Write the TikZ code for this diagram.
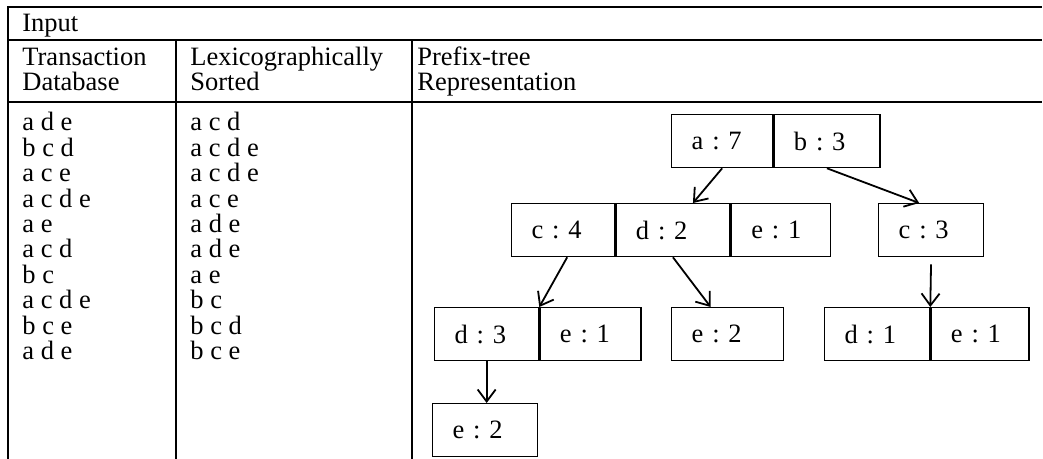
\documentclass[tikz,border=0pt]{standalone}
\usepackage{fontspec}
\setmainfont{Liberation Serif}
\usetikzlibrary{arrows.meta,positioning}

\begin{document}
\frenchspacing
\begin{tikzpicture}[x=0.5pt,y=-0.5pt,
   font=\fontsize{13.25}{12.5}\selectfont,
   rule/.style={line width=0.85pt},
   txt/.style={anchor=base west, inner sep=0pt},
   cell/.style={draw, line width=0.65pt, minimum height=26.5pt, inner xsep=10pt,
      inner ysep=0pt, text width=#1, align=left, anchor=north west},
   link/.style={line width=0.9pt, -{Straight Barb[length=6pt,width=9pt]}}]
\useasboundingbox (0,0) rectangle (1043,459);
% table rules (open at the bottom and on the right)
\draw[rule] (8,459) -- (8,7) -- (1042,7);
\draw[rule] (8,40) -- (1042,40);
\draw[rule] (8,102) -- (1042,102);
\draw[rule] (176,40) -- (176,459);
\draw[rule] (412,40) -- (412,459);
% head of the table
\node[txt] (input) at (22,32) {Input};
\foreach \n/\x/\ha/\hb in {db/22/Transaction/Database,
   srt/190/Lexicographically/Sorted,
   tree/417/Prefix-tree/Representation}{
   \node[txt] (\n-a) at (\x,66) {\ha};
   \node[txt] (\n-b) at (\x,91) {\hb};
}
% transactions, as given and sorted
\foreach \i/\db/\srt in {0/a d e/a c d, 1/b c d/a c d e, 2/a c e/a c d e,
   3/a c d e/a c e, 4/a e/a d e, 5/a c d/a d e, 6/b c/a e,
   7/a c d e/b c, 8/b c e/b c d, 9/a d e/b c e}{
   \node[txt] (db\i) at (22,{131+25.4*\i}) {\db};
   \node[txt] (srt\i) at (190,{131+25.4*\i}) {\srt};
}
% prefix tree, one node per item, named by its path
\node[cell=30.5pt] (a) at (671,114) {a : 7};
\node[cell=33pt, right=0pt of a] (b) {b : 3};
\node[cell=31.5pt] (ac) at (511,203) {c : 4};
\node[cell=37pt, right=0pt of ac] (ad) {d : 2};
\node[cell=29.5pt, right=0pt of ad] (ae) {e : 1};
\node[cell=32.5pt] (bc) at (878,203) {c : 3};
\node[cell=32pt] (acd) at (434,307) {d : 3};
\node[cell=30.5pt, right=0pt of acd] (ace) {e : 1};
\node[cell=36pt] (ade) at (671,307) {e : 2};
\node[cell=32.5pt] (bcd) at (824,307) {d : 1};
\node[cell=29pt, right=0pt of bcd] (bce) {e : 1};
\node[cell=32.5pt] (acde) at (432,403) {e : 2};
% links to the children
\draw[link] (a.south) -- ([xshift=10pt]ad.north);
\draw[link] (b.south) -- ([xshift=-6pt]bc.north);
\draw[link] ([xshift=2pt]ac.south) -- (acd.north east);
\draw[link] (ad.south) -- ([xshift=-8.5pt]ade.north);
\draw[link, shorten <=3.5pt] (bc.south) -- (bcd.north east);
\draw[link] (acd.south) -- (acd.south |- acde.north);
\end{tikzpicture}
\end{document}
